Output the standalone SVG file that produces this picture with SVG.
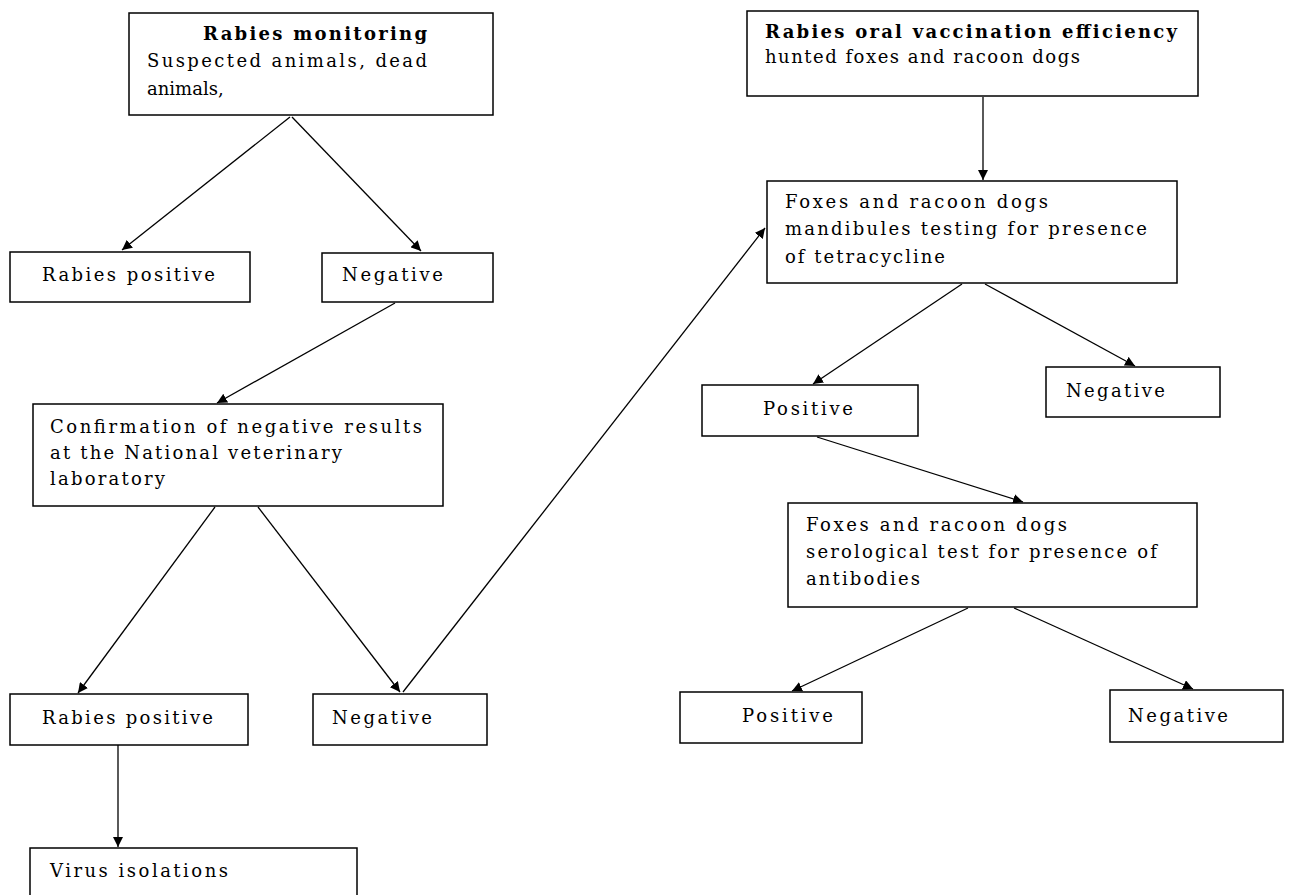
<svg xmlns="http://www.w3.org/2000/svg" width="1289" height="895" viewBox="0 0 1289 895">
<defs>
<style>
.box{fill:#fff;stroke:#000;stroke-width:1.5}
.t{font-family:"DejaVu Serif","Liberation Serif",serif;font-size:18px;fill:#000}
.b{font-weight:bold}
.c{fill:none;stroke:#000;stroke-width:1.3}
</style>
<marker id="ah" viewBox="0 0 10 10" refX="10" refY="5" markerWidth="10" markerHeight="10" markerUnits="userSpaceOnUse" orient="auto">
<path d="M0,0 L10,5 L0,10 z" fill="#000"/>
</marker>
</defs>
<rect width="1289" height="895" fill="#fff"/>

<g id="connectors">
<line class="c" x1="290" y1="117" x2="122" y2="250" marker-end="url(#ah)"/>
<line class="c" x1="292" y1="117" x2="421" y2="251" marker-end="url(#ah)"/>
<line class="c" x1="395" y1="303" x2="217" y2="403" marker-end="url(#ah)"/>
<line class="c" x1="215" y1="507" x2="78" y2="693" marker-end="url(#ah)"/>
<line class="c" x1="258" y1="507" x2="400" y2="692" marker-end="url(#ah)"/>
<line class="c" x1="403" y1="692" x2="765" y2="228" marker-end="url(#ah)"/>
<line class="c" x1="983" y1="97" x2="983" y2="180" marker-end="url(#ah)"/>
<line class="c" x1="962" y1="284" x2="813" y2="384" marker-end="url(#ah)"/>
<line class="c" x1="985" y1="284" x2="1135" y2="366" marker-end="url(#ah)"/>
<line class="c" x1="817" y1="437" x2="1023" y2="502" marker-end="url(#ah)"/>
<line class="c" x1="968" y1="608" x2="792" y2="691" marker-end="url(#ah)"/>
<line class="c" x1="1014" y1="608" x2="1193" y2="689" marker-end="url(#ah)"/>
<line class="c" x1="118" y1="745" x2="118" y2="847" marker-end="url(#ah)"/>
</g>

<g id="n-monitoring">
<rect class="box" x="129" y="13" width="364" height="102"/>
<text class="t b" x="203" y="40" textLength="224" lengthAdjust="spacing">Rabies monitoring</text>
<text class="t" x="147" y="67" textLength="280" lengthAdjust="spacing">Suspected animals, dead</text>
<text class="t" x="147" y="95">animals,</text>
</g>

<g id="n-oral">
<rect class="box" x="747" y="11" width="451" height="85"/>
<text class="t b" x="765" y="38" textLength="412" lengthAdjust="spacing">Rabies oral vaccination efficiency</text>
<text class="t" x="765" y="63" textLength="315" lengthAdjust="spacing">hunted foxes and racoon dogs</text>
</g>

<g id="n-pos1">
<rect class="box" x="10" y="252" width="240" height="50"/>
<text class="t" x="42" y="281" textLength="173" lengthAdjust="spacing">Rabies positive</text>
</g>

<g id="n-neg1">
<rect class="box" x="322" y="253" width="171" height="49"/>
<text class="t" x="342" y="281" textLength="101" lengthAdjust="spacing">Negative</text>
</g>

<g id="n-confirm">
<rect class="box" x="33" y="404" width="410" height="102"/>
<text class="t" x="50" y="433" textLength="372" lengthAdjust="spacing">Confirmation of negative results</text>
<text class="t" x="50" y="459" textLength="292" lengthAdjust="spacing">at the National veterinary</text>
<text class="t" x="50" y="485" textLength="115" lengthAdjust="spacing">laboratory</text>
</g>

<g id="n-pos2">
<rect class="box" x="10" y="694" width="238" height="51"/>
<text class="t" x="42" y="724" textLength="171" lengthAdjust="spacing">Rabies positive</text>
</g>

<g id="n-neg2">
<rect class="box" x="313" y="694" width="174" height="51"/>
<text class="t" x="332" y="724" textLength="100" lengthAdjust="spacing">Negative</text>
</g>

<g id="n-virus">
<rect class="box" x="30" y="848" width="327" height="60"/>
<text class="t" x="50" y="877" textLength="178" lengthAdjust="spacing">Virus isolations</text>
</g>

<g id="n-mandibules">
<rect class="box" x="767" y="181" width="410" height="102"/>
<text class="t" x="785" y="208" textLength="263" lengthAdjust="spacing">Foxes and racoon dogs</text>
<text class="t" x="785" y="235" textLength="362" lengthAdjust="spacing">mandibules testing for presence</text>
<text class="t" x="785" y="263" textLength="160" lengthAdjust="spacing">of tetracycline</text>
</g>

<g id="n-pos3">
<rect class="box" x="702" y="385" width="216" height="51"/>
<text class="t" x="763" y="415" textLength="90" lengthAdjust="spacing">Positive</text>
</g>

<g id="n-neg3">
<rect class="box" x="1046" y="367" width="174" height="50"/>
<text class="t" x="1066" y="397" textLength="99" lengthAdjust="spacing">Negative</text>
</g>

<g id="n-serology">
<rect class="box" x="788" y="503" width="409" height="104"/>
<text class="t" x="806" y="531" textLength="261" lengthAdjust="spacing">Foxes and racoon dogs</text>
<text class="t" x="806" y="558" textLength="351" lengthAdjust="spacing">serological test for presence of</text>
<text class="t" x="806" y="585" textLength="114" lengthAdjust="spacing">antibodies</text>
</g>

<g id="n-pos4">
<rect class="box" x="680" y="692" width="182" height="51"/>
<text class="t" x="742" y="722" textLength="91" lengthAdjust="spacing">Positive</text>
</g>

<g id="n-neg4">
<rect class="box" x="1110" y="690" width="173" height="52"/>
<text class="t" x="1128" y="722" textLength="100" lengthAdjust="spacing">Negative</text>
</g>
</svg>
